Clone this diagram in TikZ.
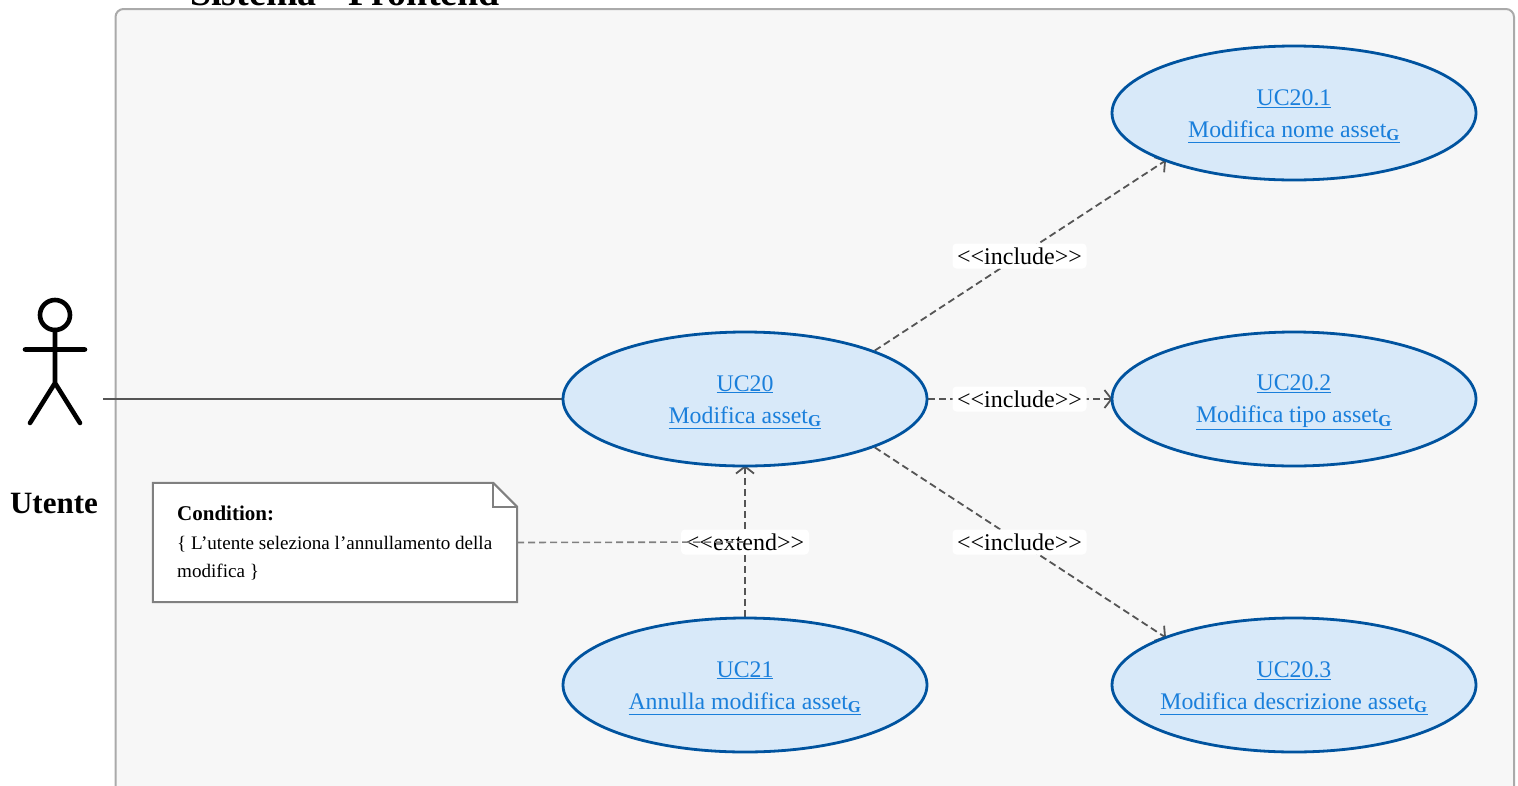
\documentclass[tikz,border=0pt]{standalone}
\usepackage{fontspec}
\setmainfont{Liberation Serif}
\usetikzlibrary{arrows.meta,shapes.geometric}
\definecolor{ucfill}{HTML}{D8E9F9}
\definecolor{ucborder}{HTML}{00539F}
\definecolor{uclink}{HTML}{1A7FDB}
\definecolor{framefill}{HTML}{F7F7F7}
\definecolor{frameline}{HTML}{AAAAAA}
\definecolor{noteline}{HTML}{808080}
\definecolor{edgeline}{HTML}{555555}
\newcommand{\ucref}[2]{\rule{0pt}{22pt}\makebox[0pt]{\underline{#1}}\\[3pt]\makebox[0pt]{\underline{#2\textsubscript{\textbf{G}}}}}
\pgfdeclarelayer{framelayer}
\pgfdeclarelayer{edgelayer}
\pgfsetlayers{framelayer,edgelayer,main}
\tikzset{
  usecase/.style={ellipse, draw=ucborder, fill=ucfill, line width=2.8pt, minimum width=364pt, minimum height=134pt, inner sep=0pt, align=center, text=uclink, font=\fontsize{23.8}{29}\selectfont},
  dep/.style={draw=edgeline, line width=1.8pt, dash pattern=on 7pt off 4pt, shorten >=-2pt, -{Straight Barb[length=7pt,width=18pt,line width=1.8pt]}},
  deplabel/.style={fill=white, rounded corners=4pt, inner sep=0pt, minimum width=134pt, minimum height=25pt, text=black, font=\fontsize{24}{26}\selectfont},
  stick/.style={line width=4.6pt, line cap=round}
}
\begin{document}
\begin{tikzpicture}[x=1pt,y=-1pt]
\useasboundingbox (0,0) rectangle (1518,785);
\begin{pgfonlayer}{framelayer}
\fill[white] (0,0) rectangle (1518,785);
\draw[draw=frameline, fill=framefill, line width=2pt, rounded corners=8pt] (115.5,9) rectangle (1514,810);
\end{pgfonlayer}
\node[anchor=base west, inner sep=0pt, font=\fontsize{38}{40}\selectfont\bfseries] (title) at (190,5) {Sistema - Frontend};

\node[usecase] (uc20) at (745,399) {\ucref{UC20}{Modifica asset}};
\node[usecase] (uc201) at (1294,113) {\ucref{UC20.1}{Modifica nome asset}};
\node[usecase] (uc202) at (1294,399) {\ucref{UC20.2}{Modifica tipo asset}};
\node[usecase] (uc203) at (1294,685) {\ucref{UC20.3}{Modifica descrizione asset}};
\node[usecase] (uc21) at (745,685) {\ucref{UC21}{Annulla modifica asset}};

\draw[stick] (55,315) circle (15);
\draw[stick] (55,330) -- (55,383) (25,349.5) -- (85,349.5) (30,423) -- (55,383) -- (80,423);
\node[font=\fontsize{31}{33}\selectfont\bfseries] (utente) at (54,503) {Utente};
\coordinate (actorport) at (103,399);

\node[minimum width=364pt, minimum height=119pt, inner sep=0pt] (notebox) at (335,542.5) {};
\draw[draw=noteline, fill=white, line width=2pt] (notebox.north west) -- ([xshift=-24pt]notebox.north east) -- ([yshift=-24pt]notebox.north east) -- (notebox.south east) -- (notebox.south west) -- cycle;
\draw[draw=noteline, line width=2pt] ([xshift=-24pt]notebox.north east) -- ([xshift=-24pt,yshift=-24pt]notebox.north east) -- ([yshift=-24pt]notebox.north east);
\node[anchor=north west, align=left, inner sep=0pt, font=\fontsize{19.1}{28}\selectfont] (notetext) at (177,506) {\fontsize{21}{28}\selectfont\textbf{Condition:}\\[1pt]\fontsize{19.1}{28}\selectfont\{ L’utente seleziona l’annullamento della\\modifica \}};

\begin{pgfonlayer}{edgelayer}
\draw[draw=edgeline, line width=1.6pt] (actorport) -- (uc20.west);
\draw[dep] (uc20.north east) -- node[deplabel, midway] (lblinc1) {<{}<include>{}>} (uc201.south west);
\draw[dep] (uc20.east) -- node[deplabel, midway] (lblinc2) {<{}<include>{}>} (uc202.west);
\draw[dep] (uc20.south east) -- node[deplabel, midway] (lblinc3) {<{}<include>{}>} (uc203.north west);
\draw[dep] (uc21.north) -- node[deplabel, midway, minimum width=128pt] (lblext) {<{}<extend>{}>} (uc20.south);
\draw[draw=noteline, line width=1.6pt, dash pattern=on 7pt off 4pt] (notebox.east) -- (lblext.center);
\end{pgfonlayer}
\end{tikzpicture}
\end{document}
